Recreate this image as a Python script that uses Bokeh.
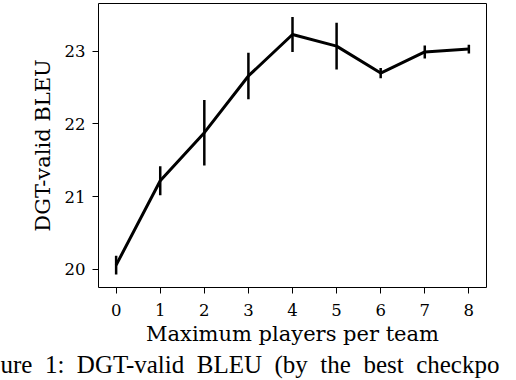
from bokeh.plotting import figure
from bokeh.models import Range1d, ColumnDataSource, FixedTicker, Title
from bokeh.embed import file_html
from bokeh.resources import INLINE

players = [0, 1, 2, 3, 4, 5, 6, 7, 8]
bleu = [20.06, 21.22, 21.88, 22.66, 23.23, 23.07, 22.70, 22.99, 23.03]
err = [0.13, 0.20, 0.45, 0.32, 0.24, 0.32, 0.07, 0.09, 0.06]
y_ticks = [20, 21, 22, 23]
x_label = "Maximum players per team"
y_label = "DGT-valid BLEU"
caption_words = ["ure", "1:", "DGT-valid", "BLEU", "(by", "the", "best", "checkpo"]

lower = [b - e for b, e in zip(bleu, err)]
upper = [b + e for b, e in zip(bleu, err)]
src = ColumnDataSource(dict(x=players, y=bleu, lo=lower, hi=upper))

FONT = "DejaVu Serif"

p = figure(width=512, height=380, output_backend="svg", toolbar_location=None,
           x_range=Range1d(-0.4, 8.4), y_range=Range1d(19.752, 23.656),
           min_border_left=98, min_border_right=26, min_border_top=3,
           min_border_bottom=93)
p.background_fill_color = "white"
p.border_fill_color = "white"
p.outline_line_color = "black"
p.outline_line_width = 1
p.xgrid.visible = False
p.ygrid.visible = False

p.line("x", "y", source=src, line_color="black", line_width=3)
p.segment(x0="x", y0="lo", x1="x", y1="hi", source=src, line_color="black", line_width=2.5)

for ax in (p.xaxis[0], p.yaxis[0]):
    ax.axis_line_color = None
    ax.major_tick_line_color = "black"
    ax.major_tick_line_width = 1
    ax.major_tick_in = 0
    ax.major_tick_out = 6
    ax.minor_tick_line_color = None
    ax.major_label_text_font = FONT
    ax.major_label_text_font_size = "16.5px"
    ax.major_label_text_color = "black"
    ax.axis_label_text_font = FONT
    ax.axis_label_text_font_size = "21px"
    ax.axis_label_text_font_style = "normal"
    ax.axis_label_text_color = "black"

p.xaxis.ticker = FixedTicker(ticks=players)
p.yaxis.ticker = FixedTicker(ticks=y_ticks)
p.xaxis.axis_label = x_label
p.yaxis.axis_label = y_label
p.xaxis.major_label_standoff = 10
p.yaxis.major_label_standoff = 7
p.xaxis.axis_label_standoff = 3
p.yaxis.axis_label_standoff = 7

caption = " \u00a0".join(caption_words)
cap = Title(text=caption, align="left", offset=-98, standoff=0,
            text_font="Liberation Serif", text_font_size="25px",
            text_font_style="normal", text_color="black")
p.add_layout(cap, "below")

open("out.html", "w").write(file_html(p, INLINE))
